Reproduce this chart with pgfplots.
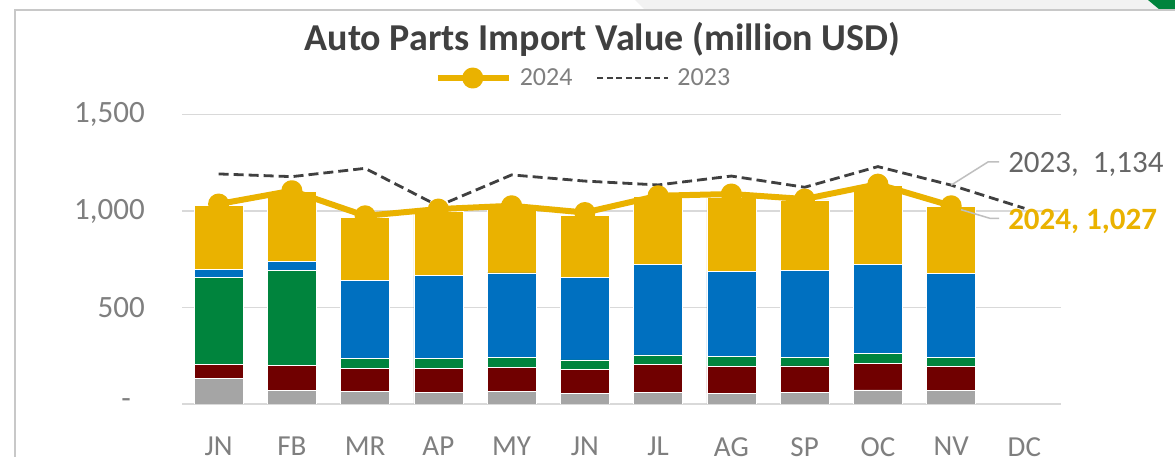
\documentclass[border=0pt]{standalone}
\usepackage{fontspec}
\setmainfont{Carlito}
\usepackage{pgfplots}
\pgfplotsset{compat=1.18}
\usepackage{pgfplotstable}

\definecolor{cgray}{HTML}{A5A5A5}
\definecolor{cred}{HTML}{700000}
\definecolor{cgreen}{HTML}{00843D}
\definecolor{cblue}{HTML}{0070C0}
\definecolor{cgold}{HTML}{EAB200}
\definecolor{cdash}{HTML}{404040}
\definecolor{cgrid}{HTML}{D9D9D9}
\definecolor{ctick}{HTML}{7F7F7F}
\definecolor{ctitle}{HTML}{404040}
\definecolor{clead}{HTML}{BFBFBF}
\definecolor{cframe}{HTML}{C8C8C8}

\newcommand{\fs}[1]{\fontsize{#1}{#1}\selectfont}

% bar segments, million USD (month index, 5 groups)
\pgfplotstableread{
x gray red green blue gold
0 133 72 451 43 332
1 71 128 494 44 363
2 67 118 50 407 325
3 62 123 50 430 335
4 64 124 54 437 341
5 55 125 48 428 323
6 60 144 50 471 349
7 55 138 52 441 383
8 62 135 45 452 363
9 73 138 50 461 409
10 71 122 49 433 347
}\parts

\pgfplotstableread{
x v
0 1036
1 1105
2 975
3 1010
4 1027
5 992
6 1079
7 1088
8 1062
9 1139
10 1027
}\yrA

\pgfplotstableread{
x v
0 1192
1 1178
2 1221
3 1026
4 1187
5 1155
6 1135
7 1181
8 1123
9 1230
10 1134
11 1014
}\yrB

\begin{document}
\begin{tikzpicture}
% frame of the chart area
\fill[white] (0,0) rectangle (1175pt,457pt);
\fill[black!5] (635pt,457pt) -- (645pt,447pt) -- (1175pt,447pt) -- (1175pt,457pt) -- cycle;
\fill[cgreen] (1148pt,457pt) -- (1160pt,447pt) -- (1175pt,447pt) -- (1175pt,457pt) -- cycle;
\draw[cframe, line width=2pt] (15pt,-5pt) -- (15pt,447pt) -- (1180pt,447pt);

\node[anchor=base, font=\bfseries\fs{38}, text=ctitle, inner sep=0pt]
  at (602.5pt,406pt) {Auto Parts Import Value (million USD)};

\begin{axis}[
  at={(182pt,53pt)}, anchor=south west,
  scale only axis, width=879pt, height=289.5pt,
  xmin=-0.5, xmax=11.5, ymin=0, ymax=1500,
  ybar stacked, bar width=0.67,
  ytick={0,500,1000,1500},
  yticklabels={{-\kern14pt},500,{1,000},{1,500}},
  xtick={0,...,11},
  xticklabels={JN,FB,MR,AP,MY,JN,JL,AG,SP,OC,NV,DC},
  major tick length=0pt,
  axis line style={draw=none},
  ymajorgrids, grid style={color=cgrid, line width=1.5pt},
  tick label style={font=\fs{31}, text=ctick, inner sep=0pt},
  yticklabel style={anchor=east, xshift=-37pt},
  xticklabel style={anchor=north, yshift=-33pt, font=\fs{29}},
]
\addplot[fill=cgray, draw=white, line width=0.6pt] table[x=x,y=gray] \parts;
\addplot[fill=cred, draw=white, line width=0.6pt] table[x=x,y=red] \parts;
\addplot[fill=cgreen, draw=white, line width=0.6pt] table[x=x,y=green] \parts;
\addplot[fill=cblue, draw=white, line width=0.6pt] table[x=x,y=blue] \parts;
\addplot[fill=cgold, draw=white, line width=0.6pt] table[x=x,y=gold] \parts;
\end{axis}

\begin{axis}[
  at={(182pt,53pt)}, anchor=south west,
  scale only axis, width=879pt, height=289.5pt,
  xmin=-0.5, xmax=11.5, ymin=0, ymax=1500,
  hide axis, clip=false,
  legend columns=2,
  legend style={draw=none, fill=none, at={(0.4556,1.126)}, anchor=center,
    inner sep=0pt, font=\fs{26}, text=ctick,
    nodes={inner sep=0pt},
    /tikz/every odd column/.append style={column sep=8pt},
    /tikz/every even column/.append style={column sep=24pt}},
  legend cell align=left,
  legend image code/.code={
    \draw[mark repeat=2, mark phase=2, #1] plot coordinates {(0pt,0pt) (35pt,0pt) (71pt,0pt)};},
]
\addplot[color=cgold, line width=6pt, line join=round, mark=*, mark size=7.5pt,
  mark options={solid}] table[x=x,y=v] \yrA;
\addlegendentry{2024}
\addplot[color=cdash, line width=2.8pt, dash pattern=on 10pt off 5pt,
  legend image post style={line width=2pt, dash pattern=on 6pt off 3.5pt}]
  table[x=x,y=v] \yrB;
\addlegendentry{2023}

\draw[clead, line width=1.5pt] (axis cs:10,1134) -- (axis cs:10.503,1254) -- (axis cs:10.654,1254);
\draw[clead, line width=1.5pt] (axis cs:10,1022) -- (axis cs:10.53,962) -- (axis cs:10.654,962);
\node[anchor=base west, inner sep=0pt, font=\fs{31}, text=black!60]
  at (axis cs:10.777,1197) {2023,\ \ 1,134};
\node[anchor=base west, inner sep=0pt, font=\bfseries\fs{31}, text=cgold]
  at (axis cs:10.777,905) {2024, 1,027};
\end{axis}

\pgfresetboundingbox
\path[use as bounding box] (0,0) rectangle (1175pt,457pt);
\end{tikzpicture}
\end{document}
